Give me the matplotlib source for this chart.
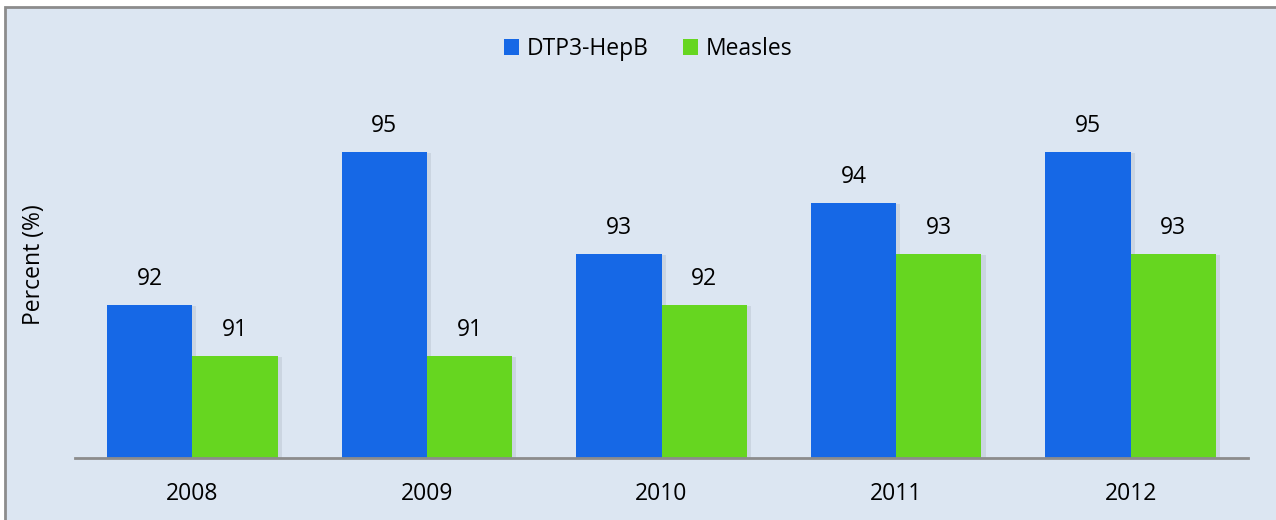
import numpy as np
import matplotlib.pyplot as plt
from matplotlib.patches import Rectangle
import matplotlib.patheffects as pe

years = ['2008', '2009', '2010', '2011', '2012']
dtp3_hepb = [92, 95, 93, 94, 95]
measles = [91, 91, 92, 93, 93]

plt.rcParams['font.family'] = ['Open Sans', 'DejaVu Sans']

fig = plt.figure(figsize=(12.76, 5.2), dpi=100, facecolor='white')

# panel background with grey frame on top/left
bg = Rectangle((5 / 1276, -0.05), 1.1, 1 - 7 / 520 + 0.05, transform=fig.transFigure,
               facecolor='#dce6f2', edgecolor='#8c8c8c', linewidth=2, zorder=-10)
fig.patches.append(bg)

ax = fig.add_axes([75 / 1276, 1 - 458 / 520, (1248 - 75) / 1276, 408 / 520])
ax.set_facecolor('none')
ax.set_zorder(1)

x = np.arange(len(years))
w = 0.364
shadow = [pe.SimplePatchShadow(offset=(3, -1), shadow_rgbFace='#7f8a99', alpha=0.18), pe.Normal()]
b1 = ax.bar(x - w / 2, dtp3_hepb, w, bottom=0, color='#1668e6', label='DTP3-HepB', zorder=3)
b2 = ax.bar(x + w / 2, measles, w, bottom=0, color='#66d620', label='Measles', zorder=3)

fs = 16.5
for xi, v in zip(x, dtp3_hepb):
    ax.annotate(str(v), (xi - w / 2, v), xytext=(0, 14), textcoords='offset pixels',
                ha='center', va='bottom', fontsize=fs)
for xi, v in zip(x, measles):
    ax.annotate(str(v), (xi + w / 2, v), xytext=(0, 14), textcoords='offset pixels',
                ha='center', va='bottom', fontsize=fs)

ax.set_ylim(89, 97)
ax.set_xlim(-0.5, 4.5)
ax.set_xticks(x)
ax.set_xticklabels(years, fontsize=fs)
ax.tick_params(axis='x', length=0, pad=17)
ax.set_yticks([])
for s in ['top', 'right', 'left']:
    ax.spines[s].set_visible(False)
ax.spines['bottom'].set_color('#8c8c8c')
ax.spines['bottom'].set_linewidth(2)
ax.spines['bottom'].set_zorder(4)

fig.text(34 / 1276, 1 - 265 / 520, 'Percent (%)', rotation=90, ha='center', va='center', fontsize=fs)

fig.legend(loc='center', bbox_to_anchor=(648 / 1276, 1 - 49 / 520), ncol=2, frameon=False,
           fontsize=fs, handlelength=0.65, handleheight=0.65, handletextpad=0.35, columnspacing=1.5)

# shadows on bars only (after the legend copied the handles)
for b in list(b1) + list(b2):
    b.set_path_effects(shadow)

fig.savefig('out.png', dpi=100, facecolor='white')
